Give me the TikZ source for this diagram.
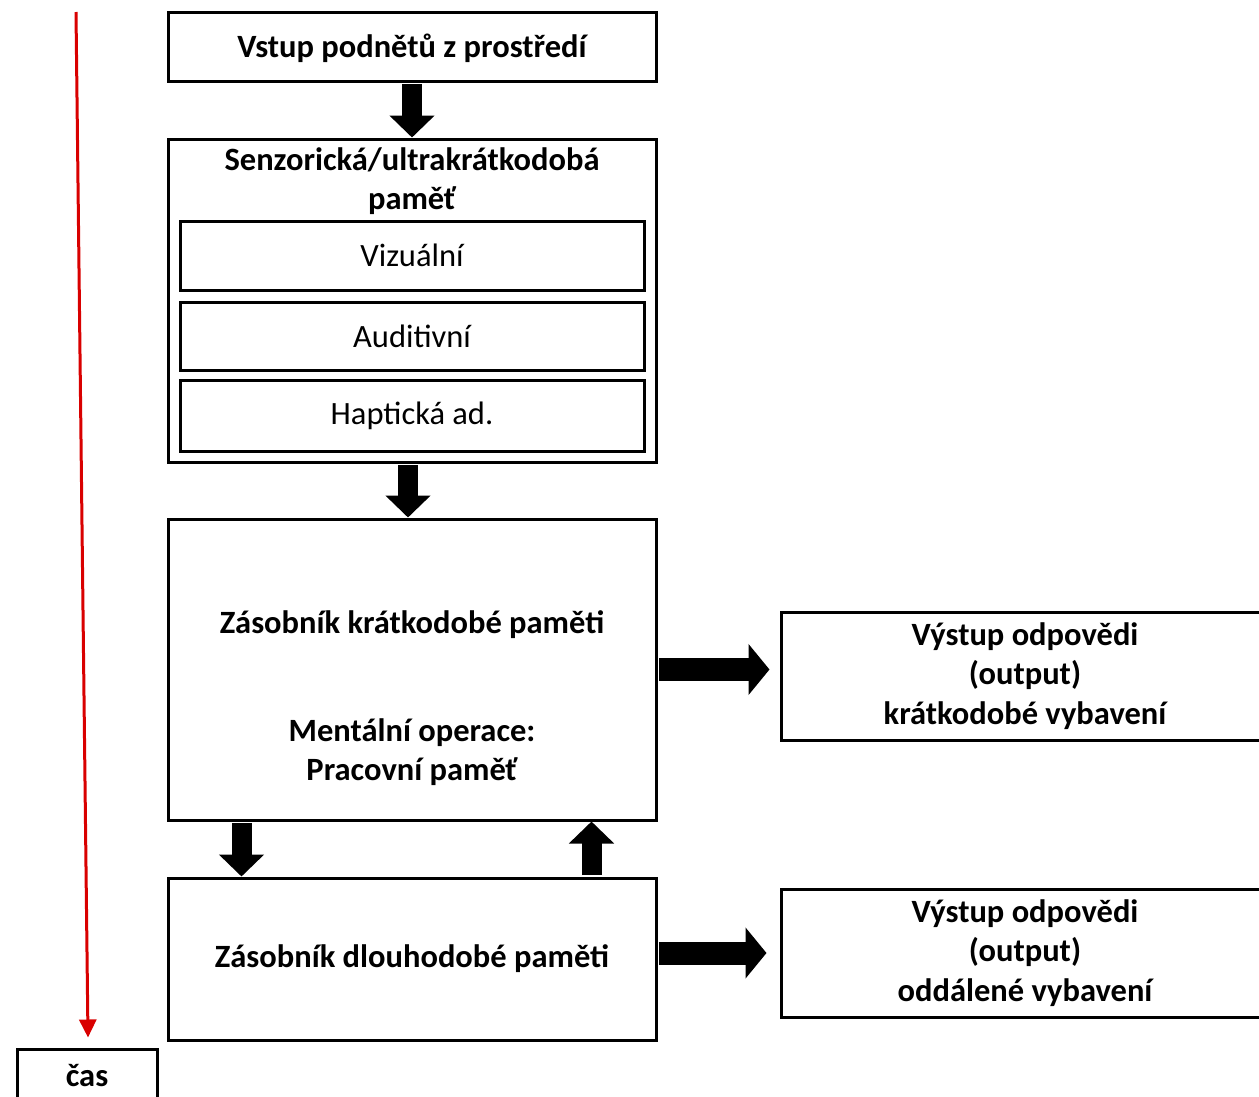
\documentclass[tikz,border=0pt]{standalone}
\usepackage{fontspec}
\setmainfont{Carlito}
\usetikzlibrary{arrows.meta,calc}
\begin{document}
\begin{tikzpicture}[x=1pt,y=-1pt,
  box/.style={draw=black,line width=3pt,minimum width=#1,inner sep=0pt},
  lbl/.style={font=\fontsize{32.5}{39.5}\selectfont\bfseries,align=center,inner sep=0pt},
  sub/.style={font=\fontsize{32.5}{39.5}\selectfont,align=center,inner sep=0pt},
  varrow/.style={line width=20pt,-{Triangle[width=44pt,length=22pt]},shorten <=1.5pt},
  harrow/.style={line width=23pt,-{Triangle[width=50pt,length=21pt]},shorten <=1.5pt},
  timearrow/.style={draw=red!85!black,line width=3pt,-{Triangle[width=17pt,length=18pt]}}]
\useasboundingbox (0,0) rectangle (1259,1096);

\node[box=488pt,minimum height=69pt] (top) at (412,46.5) {};
\node[lbl] (toptxt) at (412,48) {Vstup podnětů z prostředí};

\node[box=488pt,minimum height=323pt] (sens) at (412,300.5) {};
\node[lbl] (senstxt) at (412,181) {Senzorická/ultrakrátkodobá\\paměť};
\node[box=464pt,minimum height=69pt,sub] (viz) at (412,255.5) {Vizuální};
\node[box=464pt,minimum height=68pt,sub] (aud) at (412,336) {Auditivní};
\node[box=464pt,minimum height=71pt,sub] (hap) at (412,415.5) {Haptická ad.};

\node[box=488pt,minimum height=301pt] (stm) at (412,669.5) {};
\node[lbl] (stmtxt) at (412,625) {Zásobník krátkodobé paměti};
\node[lbl] (mental) at (412,752) {Mentální operace:\\Pracovní paměť};

\node[box=488pt,minimum height=162pt,lbl] (ltm) at (412,959) {Zásobník dlouhodobé paměti};

\node[box=480pt,minimum height=128pt] (out1) at (1021,676) {};
\node[lbl] (out1txt) at (1025,676) {Výstup odpovědi\\(output)\\krátkodobé vybavení};
\node[box=480pt,minimum height=128pt] (out2) at (1021,953) {};
\node[lbl] (out2txt) at (1025,953) {Výstup odpovědi\\(output)\\oddálené vybavení};

\node[box=140pt,minimum height=54pt,lbl] (cas) at (87,1076) {čas};

\draw[varrow] (top.south) -- (sens.north);
\draw[varrow] ($(sens.south)+(-4,0)$) -- ($(stm.north)+(-4,0)$);
\draw[varrow] ($(stm.south west)+(75,0)$) -- ($(ltm.north west)+(75,0)$);
\draw[varrow] ($(ltm.north west)+(425,0)$) -- ($(stm.south west)+(425,0)$);
\draw[harrow] (stm.east) -- ($(stm.east)+(112,0)$);
\draw[harrow] (ltm.east |- out2.west) -- ($(out2.west)+(-13,0)$);

\coordinate (tstart) at (76,12);
\draw[timearrow] (tstart) -- ($(cas.north)+(1,-10)$);
\end{tikzpicture}
\end{document}
